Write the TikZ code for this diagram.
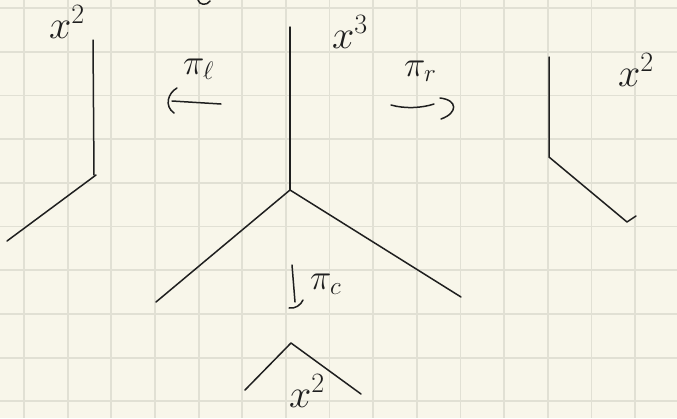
\RequirePackage{fix-cm}
\documentclass[tikz,border=0pt]{standalone}
\begin{document}
\begin{tikzpicture}[x=1pt,y=-1pt,
  ink/.style={draw=black!88, line width=1.5pt, line cap=round, line join=round},
  gridline/.style={draw=gridc, line width=1.8pt},
  lbl/.style={anchor=base west, inner sep=0pt, text=black!88},
  big/.style={font=\fontsize{40}{40}\selectfont},
  small/.style={font=\fontsize{36}{36}\selectfont}]
\definecolor{paper}{HTML}{F8F6EA}
\definecolor{gridc}{HTML}{E1E0D4}
\fill[paper] (0,0) rectangle (677,418);
\useasboundingbox (0,0) rectangle (677,418);
% grid
\foreach \k in {0,...,14} \draw[gridline] ({24+43.65*\k},0) -- ({24+43.65*\k},418);
\foreach \k in {0,...,9} \draw[gridline] (0,{8+43.7*\k}) -- (677,{8+43.7*\k});

% left figure
\coordinate (Ltop) at (93,40);
\coordinate (Ljoin) at (94,175);
\coordinate (Lend) at (7,241);
\draw[ink] (Ltop) -- (Ljoin);
\draw[ink] (96,175) -- (Lend);
\node[lbl,big] (Llab) at (49,38) {$x^2$};

% centre figure
\coordinate (Ctop) at (290,27);
\coordinate (Cjoin) at (290,190);
\coordinate (Cleft) at (156,302);
\coordinate (Cright) at (461,297);
\draw[ink] (Ctop) -- (Cjoin);
\draw[ink] (Cleft) -- (Cjoin) -- (Cright);
\node[lbl,big] (Clab) at (332,48) {$x^3$};

% right figure
\coordinate (Rtop) at (549,57);
\coordinate (Rjoin) at (549,157);
\coordinate (Rend) at (627,222);
\coordinate (Rtick) at (636,216);
\draw[ink] (Rtop) -- (Rjoin) -- (Rend) -- (Rtick);
\node[lbl,big] (Rlab) at (618,86) {$x^2$};

% bottom figure
\coordinate (Bleft) at (245,390);
\coordinate (Bapex) at (291,343);
\coordinate (Bright) at (361,394);
\draw[ink] (Bleft) -- (Bapex) -- (Bright);
\node[lbl,big] (Blab) at (289,407) {$x^2$};

% pi_l arrow (left)
\coordinate (PLa) at (221,104);
\coordinate (PLb) at (172,101);
\draw[ink] (PLa) -- (PLb);
\draw[ink] (177,88) .. controls (168,93) and (164,106) .. (174,113);
\node[lbl,small] (PLlab) at (183,74) {$\pi_\ell$};

% pi_r arrow (right)
\coordinate (PRa) at (391,105);
\coordinate (PRb) at (434,104);
\draw[ink] (PRa) .. controls (405,109) and (422,108) .. (PRb);
\draw[ink] (440,98) .. controls (458,100) and (458,113) .. (441,119);
\node[lbl,small] (PRlab) at (404,76) {$\pi_r$};

% pi_c arrow (down)
\coordinate (PCa) at (292,265);
\coordinate (PCb) at (295,302);
\draw[ink] (PCa) -- (PCb);
\draw[ink] (289,308) .. controls (295,309) and (301,305) .. (303,300);
\node[lbl,small] (PClab) at (310,289) {$\pi_c$};

% fragment at the top edge
\draw[ink] (198,0) .. controls (199,5) and (207,6) .. (210,1);
\end{tikzpicture}
\end{document}
